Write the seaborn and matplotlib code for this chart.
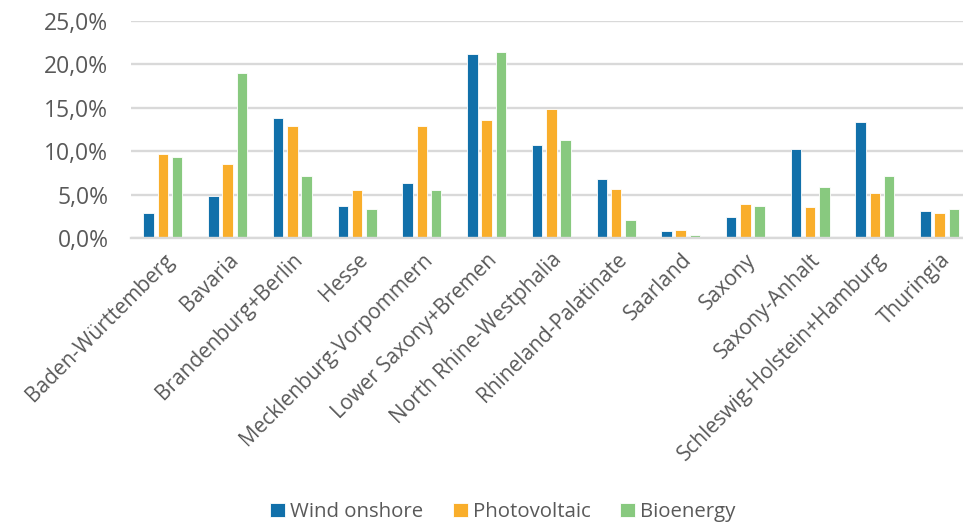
import matplotlib
matplotlib.use("Agg")
import matplotlib.pyplot as plt
from matplotlib.ticker import FuncFormatter, MultipleLocator
import pandas as pd
import seaborn as sns

states = [
    "Baden-Württemberg", "Bavaria", "Brandenburg+Berlin", "Hesse",
    "Mecklenburg-Vorpommern", "Lower Saxony+Bremen", "North Rhine-Westphalia",
    "Rhineland-Palatinate", "Saarland", "Saxony", "Saxony-Anhalt",
    "Schleswig-Holstein+Hamburg", "Thuringia",
]
wind_onshore = [2.9, 4.9, 13.8, 3.7, 6.4, 21.2, 10.7, 6.8, 0.8, 2.4, 10.3, 13.4, 3.1]
photovoltaic = [9.7, 8.5, 12.9, 5.6, 12.9, 13.6, 14.8, 5.7, 1.0, 3.9, 3.6, 5.2, 2.9]
bioenergy = [9.3, 19.0, 7.2, 3.4, 5.5, 21.4, 11.3, 2.1, 0.35, 3.7, 5.9, 7.2, 3.4]
series_names = ["Wind onshore", "Photovoltaic", "Bioenergy"]
colors = ["#1170AA", "#F9AE2B", "#88C97F"]

df = pd.DataFrame({
    "state": states * 3,
    "share": wind_onshore + photovoltaic + bioenergy,
    "source": [s for s in series_names for _ in states],
})

sns.set_theme(style="white")
plt.rcParams["font.family"] = ["Open Sans", "DejaVu Sans"]
text_color = "#595959"

fig = plt.figure(figsize=(9.63, 5.24), dpi=100)
W, H = 963, 524
left, right_px = 130.6, 972.0
top_px, zero_px = 20.7, 238.3
ax = fig.add_axes([left / W, 1 - zero_px / H, (right_px - left) / W, (zero_px - top_px) / H])

sns.barplot(
    data=df, x="state", y="share", hue="source", order=states,
    hue_order=series_names, palette=colors, width=0.66, gap=0.26,
    edgecolor="white", linewidth=0.6, saturation=1, ax=ax, legend=True,
)

ax.set_ylim(0, 25)
ax.set_xlim(-0.5, 12.5)
ax.yaxis.set_major_locator(MultipleLocator(5))
ax.yaxis.set_major_formatter(FuncFormatter(lambda v, _: f"{v:.1f}%".replace(".", ",")))
ax.grid(axis="y", color="#D9D9D9", linewidth=1.7)
ax.set_axisbelow(True)
for side in ["top", "right", "left"]:
    ax.spines[side].set_visible(False)
ax.spines["bottom"].set_color("#D9D9D9")
ax.spines["bottom"].set_linewidth(1.7)
ax.set_xlabel("")
ax.set_ylabel("")
ax.tick_params(axis="y", length=0, pad=16, labelsize=16.5, labelcolor=text_color)
ax.tick_params(axis="x", length=0, pad=8, labelsize=15, labelcolor=text_color)
plt.setp(ax.get_xticklabels(), rotation=45, ha="right", rotation_mode="anchor")

handles, labels = ax.get_legend_handles_labels()
ax.legend_.remove()
fig.legend(
    handles, labels, loc="center", bbox_to_anchor=(503 / W, 1 - 512 / H),
    ncol=3, frameon=False, fontsize=14.7, labelcolor=text_color,
    handlelength=0.73, handleheight=0.73, handletextpad=0.25, columnspacing=1.45,
)

fig.savefig("out.png", dpi=100)
